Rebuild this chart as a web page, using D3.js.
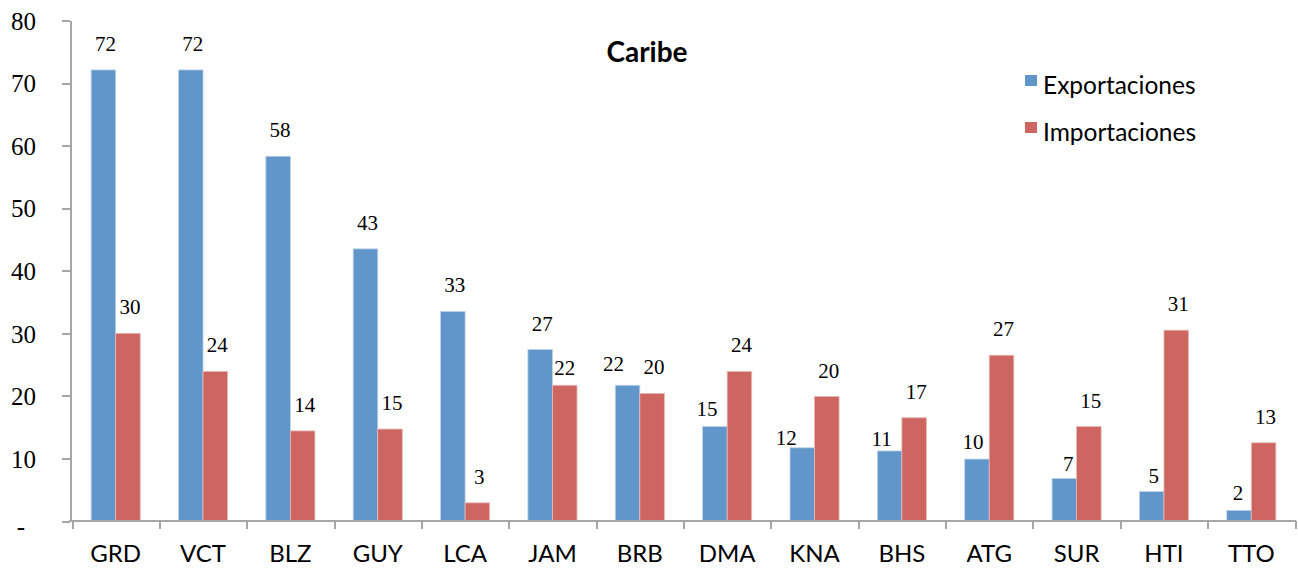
<!DOCTYPE html>
<html lang="es">
<head>
<meta charset="utf-8">
<style>
  html, body { margin:0; padding:0; background:#fff; overflow:hidden }
  svg { display:block }
  .axis path, .axis line { stroke:#A6A6A6; stroke-width:2px; shape-rendering:crispEdges }
  .ytick text { font-family:"Liberation Serif", serif; font-size:25px; fill:#000 }
  .xtick text { font-family:Lato, sans-serif; font-size:24px; fill:#000 }
  .lbl { font-family:"Liberation Serif", serif; font-size:21px; fill:#000; text-anchor:middle }
  .legend text { font-family:Lato, sans-serif; font-size:24.5px; fill:#000 }
  .title { font-family:Lato, sans-serif; font-size:28px; font-weight:bold; text-anchor:middle }
</style>
</head>
<body>
<svg width="1298" height="570"></svg>
<script src="https://cdn.jsdelivr.net/npm/d3@7"></script>
<script>
// datos
var paises = ["GRD","VCT","BLZ","GUY","LCA","JAM","BRB","DMA","KNA","BHS","ATG","SUR","HTI","TTO"];
var exportaciones = [72.1, 72.1, 58.3, 43.5, 33.5, 27.4, 21.7, 15.1, 11.7, 11.2, 9.9, 6.8, 4.7, 1.7];
var importaciones = [30.0, 23.9, 14.4, 14.7, 2.9, 21.7, 20.4, 23.9, 19.9, 16.5, 26.5, 15.1, 30.5, 12.5];
var etiquetasExp = [72, 72, 58, 43, 33, 27, 22, 15, 12, 11, 10, 7, 5, 2];
var etiquetasImp = [30, 24, 14, 15, 3, 22, 20, 24, 20, 17, 27, 15, 31, 13];
var series = ["Exportaciones", "Importaciones"];
var yTicks = [0, 10, 20, 30, 40, 50, 60, 70, 80];

// ajustes manuales de las etiquetas (como en la hoja original)
var ajusteExp = {BRB:[-16,5], DMA:[-10,8], KNA:[-18,16], BHS:[-10,14], ATG:[-6,9], SUR:[2,12], HTI:[0,10], TTO:[-3,9]};
var ajusteImp = {JAM:[-2,9]};

var colores = {Exportaciones:"#6096CA", Importaciones:"#CD6660"};
var bordes = {Exportaciones:"#BFD2EA", Importaciones:"#E9B9B6"};

var svg = d3.select("svg");
var x0 = d3.scaleBand().domain(paises).range([72, 1295]).padding(0);
var x1 = d3.scaleBand().domain(series).range([0, x0.bandwidth()]).paddingInner(0).paddingOuter(0.78);
var y = d3.scaleLinear().domain([0, 80]).range([521, 20.5]);

// barras
var grupos = svg.selectAll("g.pais")
    .data(paises)
    .enter().append("g")
    .attr("class", "pais")
    .attr("transform", function (d) { return "translate(" + x0(d) + ",0)"; });

grupos.selectAll("rect")
    .data(function (d, i) {
        return [{s:"Exportaciones", v:exportaciones[i], p:d}, {s:"Importaciones", v:importaciones[i], p:d}];
    })
    .enter().append("rect")
    .attr("x", function (d) { return x1(d.s); })
    .attr("y", function (d) { return y(d.v); })
    .attr("width", x1.bandwidth())
    .attr("height", function (d) { return y(0) - y(d.v); })
    .attr("fill", function (d) { return colores[d.s]; })
    .attr("stroke", function (d) { return bordes[d.s]; })
    .attr("stroke-width", 0.8);

// etiquetas de datos
grupos.selectAll("text.lbl")
    .data(function (d, i) {
        return [{s:"Exportaciones", v:exportaciones[i], t:etiquetasExp[i], a:ajusteExp[d] || [0,0]},
                {s:"Importaciones", v:importaciones[i], t:etiquetasImp[i], a:ajusteImp[d] || [0,0]}];
    })
    .enter().append("text")
    .attr("class", "lbl")
    .attr("x", function (d) { return x1(d.s) + x1.bandwidth() / 2 + 2 + d.a[0]; })
    .attr("y", function (d) { return y(d.v) - 19 + d.a[1]; })
    .text(function (d) { return d.t; });

// eje y
var yAxis = svg.append("g")
    .attr("class", "axis ytick")
    .attr("transform", "translate(70,0)")
    .call(d3.axisLeft(y).tickValues(yTicks).tickSize(8).tickSizeOuter(0).tickPadding(26)
        .tickFormat(function (d) { return d === 0 ? "-" : d; }));
yAxis.selectAll(".tick text")
    .attr("dx", function (d) { return d === 0 ? -11 : 0; })
    .attr("dy", function (d) { return d === 0 ? "0.55em" : "0.35em"; });

// eje x: marcas en los limites de cada categoria
var xLim = d3.scaleLinear().domain([0, paises.length]).range(x0.range());
svg.append("g")
    .attr("class", "axis")
    .attr("transform", "translate(0,521)")
    .call(d3.axisBottom(xLim).ticks(paises.length).tickSize(8).tickSizeOuter(0).tickFormat(""))
    .select(".domain").attr("d", "M69,0H1296");

var xAxis = svg.append("g")
    .attr("class", "xtick")
    .attr("transform", "translate(0,521)")
    .call(d3.axisBottom(x0).tickSize(0).tickPadding(24));
xAxis.select(".domain").remove();

// titulo
svg.append("text")
    .attr("class", "title")
    .attr("x", 647)
    .attr("y", 62)
    .text("Caribe");

// leyenda
var leyenda = svg.append("g")
    .attr("class", "legend")
    .selectAll("g")
    .data(series)
    .enter().append("g")
    .attr("transform", function (d, i) { return "translate(1025," + (75 + i * 47) + ")"; });

leyenda.append("rect")
    .attr("width", 12)
    .attr("height", 11)
    .attr("fill", function (d) { return colores[d]; });

leyenda.append("text")
    .attr("x", 18)
    .attr("y", 19)
    .text(function (d) { return d; });
</script>
</body>
</html>
